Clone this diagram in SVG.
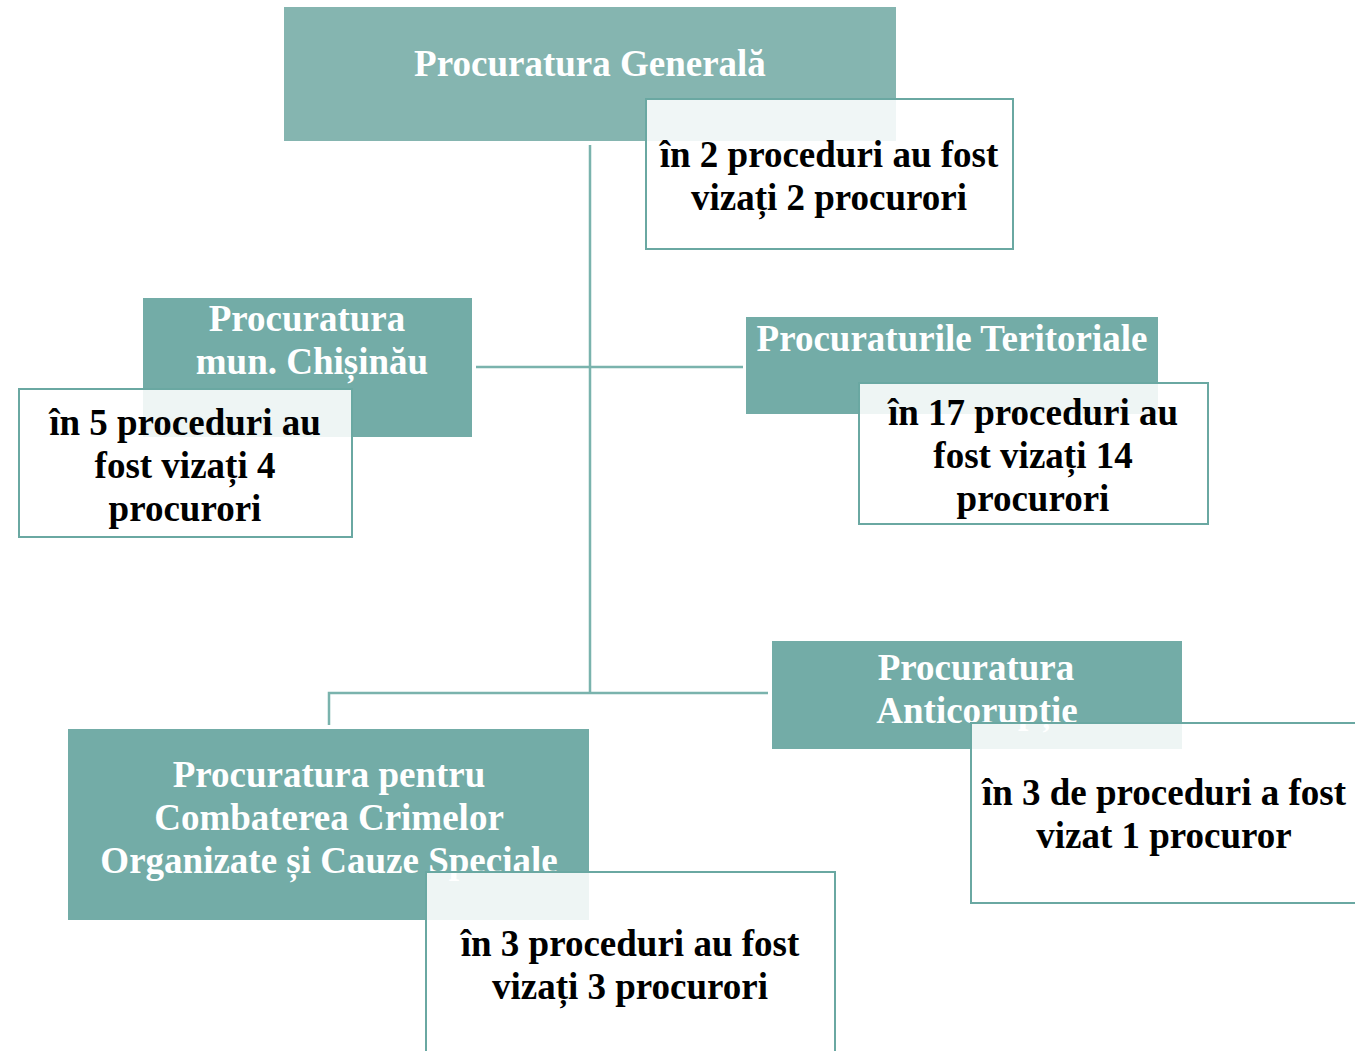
<svg xmlns="http://www.w3.org/2000/svg" width="1355" height="1051" viewBox="0 0 1355 1051">
<style>
.teal{fill:#73aca7}
.teal2{fill:#85b5b0}
.card{fill:#ffffff;fill-opacity:0.88;stroke:#6aa8a2;stroke-width:2}
.conn{fill:none;stroke:#7ab3ad;stroke-width:2.5}
.wt{font-family:"Liberation Serif","Times New Roman",serif;font-weight:bold;font-size:37px;fill:#ffffff;text-anchor:middle}
.bt{font-family:"Liberation Serif","Times New Roman",serif;font-weight:bold;font-size:37px;fill:#000000;text-anchor:middle}
</style>
<rect width="1355" height="1051" fill="#ffffff"/>
<g id="connectors">
<line class="conn" x1="590" y1="145" x2="590" y2="694"/>
<line class="conn" x1="476" y1="367" x2="743" y2="367"/>
<polyline class="conn" points="329,725 329,693 768,693"/>
</g>
<g id="node-general">
<rect class="teal2" x="284" y="7" width="612" height="134"/>
<text class="wt" x="590" y="76">Procuratura Generală</text>
<rect class="card" x="646" y="99" width="367" height="150"/>
<text class="bt" x="829" y="167">în 2 proceduri au fost</text>
<text class="bt" x="829" y="210">vizați 2 procurori</text>
</g>
<g id="node-chisinau">
<rect class="teal" x="143" y="298" width="329" height="139"/>
<text class="wt" x="307" y="331">Procuratura</text>
<text class="wt" x="312" y="374">mun. Chișinău</text>
<rect class="card" x="19" y="389" width="333" height="148"/>
<text class="bt" x="185" y="435">în 5 proceduri au</text>
<text class="bt" x="185" y="478">fost vizați 4</text>
<text class="bt" x="185" y="521">procurori</text>
</g>
<g id="node-teritoriale">
<rect class="teal" x="746" y="317" width="412" height="97"/>
<text class="wt" x="952" y="351">Procuraturile Teritoriale</text>
<rect class="card" x="859" y="383" width="349" height="141"/>
<text class="bt" x="1033" y="425">în 17 proceduri au</text>
<text class="bt" x="1033" y="468">fost vizați 14</text>
<text class="bt" x="1033" y="511">procurori</text>
</g>
<g id="node-anticoruptie">
<rect class="teal" x="772" y="641" width="410" height="108"/>
<text class="wt" x="976" y="680">Procuratura</text>
<text class="wt" x="977" y="723">Anticorupție</text>
<rect class="card" x="971" y="723" width="400" height="180"/>
<text class="bt" x="1164" y="805">în 3 de proceduri a fost</text>
<text class="bt" x="1164" y="848">vizat 1 procuror</text>
</g>
<g id="node-pccocs">
<rect class="teal" x="68" y="729" width="521" height="191"/>
<text class="wt" x="329" y="787">Procuratura pentru</text>
<text class="wt" x="329" y="830">Combaterea Crimelor</text>
<text class="wt" x="329" y="873">Organizate și Cauze Speciale</text>
<rect class="card" x="426" y="872" width="409" height="200"/>
<text class="bt" x="630" y="956">în 3 proceduri au fost</text>
<text class="bt" x="630" y="999">vizați 3 procurori</text>
</g>
</svg>
